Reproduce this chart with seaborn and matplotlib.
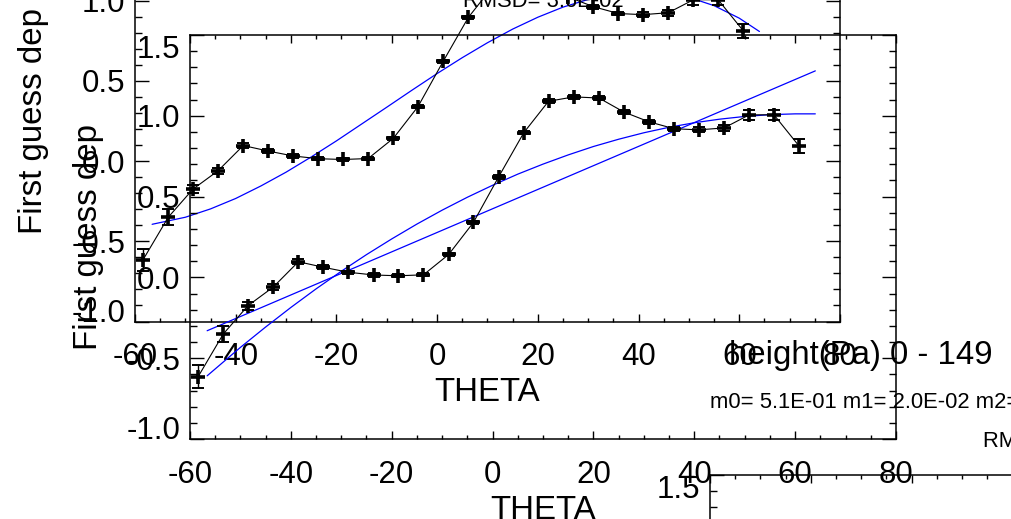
import matplotlib
matplotlib.use("Agg")
import matplotlib.pyplot as plt
import seaborn as sns
from matplotlib.ticker import FixedLocator, MultipleLocator, FormatStrFormatter

# Binned first-guess departures against scan angle (THETA)
theta = [-58.4, -53.4, -48.5, -43.5, -38.5, -33.6, -28.6, -23.6, -18.7, -13.7,
         -8.7, -3.8, 1.2, 6.2, 11.1, 16.1, 21.1, 26.0, 31.0, 36.0,
         40.9, 45.9, 50.9, 55.8, 60.8]
fg_dep = [-0.615, -0.350, -0.175, -0.060, 0.097, 0.063, 0.032, 0.015, 0.010, 0.016,
          0.142, 0.340, 0.622, 0.896, 1.090, 1.117, 1.110, 1.024, 0.963, 0.920,
          0.913, 0.925, 1.006, 1.006, 0.812]
fg_err = [0.070, 0.050, 0.025, 0.020, 0.015, 0.012, 0.010, 0.010, 0.010, 0.010,
          0.010, 0.010, 0.010, 0.010, 0.012, 0.012, 0.012, 0.012, 0.012, 0.012,
          0.015, 0.018, 0.030, 0.030, 0.045]

# Fitted bias-correction curves, sampled along THETA
fit_theta = [-56.6, -50, -45, -40, -35, -30, -25, -20, -15, -10, -5, 0, 5,
             10, 15, 20, 25, 30, 35, 40, 45, 50, 55, 60, 64.0]
fit_cubic = [-0.394, -0.350, -0.298, -0.233, -0.155, -0.069, 0.026, 0.126, 0.231,
             0.336, 0.442, 0.546, 0.645, 0.738, 0.823, 0.897, 0.960, 1.008, 1.041,
             1.055, 1.049, 1.021, 0.969, 0.891, 0.808]
fit_quad = [-0.609, -0.433, -0.307, -0.186, -0.071, 0.038, 0.141, 0.238, 0.330,
            0.416, 0.496, 0.570, 0.639, 0.701, 0.758, 0.810, 0.855, 0.895, 0.929,
            0.957, 0.979, 0.996, 1.007, 1.012, 1.012]
lin_theta = [-56.6, 64.0]
fit_lin = [-0.330, 1.278]

x_ticks = [-60, -40, -20, 0, 20, 40, 60, 80]
y_ticks = [-1.0, -0.5, 0.0, 0.5, 1.0, 1.5]

title_text = "height(Pa) 0 - 149"
coef_text = "m0= 5.1E-01 m1= 2.0E-02 m2=-1.2E-04"
rmsd_text = "RMSD= 3.6E-02"

sns.set_theme(style="ticks")
plt.rcParams["font.family"] = ["Liberation Sans", "DejaVu Sans"]
plt.rcParams["axes.unicode_minus"] = False

W, H = 1012, 519
fig = plt.figure(figsize=(W / 100, H / 100), dpi=100, facecolor="white")

BIG = 23.8
TICK = 22.5
SMALL = 15.8


def panel(left, top, width, height):
    ax = fig.add_axes([left / W, (H - top - height) / H, width / W, height / H])
    ax.set_facecolor("none")
    ax.set_xlim(-60, 80)
    ax.set_ylim(-1.0, 1.5)
    ax.xaxis.set_major_locator(FixedLocator(x_ticks))
    ax.xaxis.set_minor_locator(MultipleLocator(5))
    ax.yaxis.set_major_locator(FixedLocator(y_ticks))
    ax.yaxis.set_minor_locator(MultipleLocator(0.1))
    ax.xaxis.set_major_formatter(FormatStrFormatter("%d"))
    ax.yaxis.set_major_formatter(FormatStrFormatter("%.1f"))
    for s in ax.spines.values():
        s.set_visible(True)
        s.set_linewidth(1.1)
        s.set_color("black")
    ax.tick_params(which="both", direction="in", top=True, right=True,
                   width=1.0, color="black", labelsize=TICK, labelcolor="black")
    ax.tick_params(axis="x", which="major", length=5.8, pad=15)
    ax.tick_params(axis="x", which="minor", length=2.9)
    ax.tick_params(axis="y", which="major", length=10, pad=7)
    ax.tick_params(axis="y", which="minor", length=5)
    return ax


def finish(ax):
    ax.set_xlabel("THETA", fontsize=BIG, labelpad=3.5, color="black")
    ax.set_ylabel("First guess dep", fontsize=BIG, color="black")
    ax.yaxis.set_label_coords(-0.122, 0.5)
    ticks = ax.yaxis.get_major_ticks()
    ticks[0].label1.set_va("baseline")
    ticks[-1].label1.set_va("top")


def draw_departures(ax):
    ax.errorbar(theta, fg_dep, yerr=fg_err, fmt="none", ecolor="black",
                elinewidth=1.0, capsize=4, capthick=1.4, zorder=3)
    sns.lineplot(x=theta, y=fg_dep, ax=ax, color="black", linewidth=0.8,
                 marker="+", markersize=10, markeredgewidth=2.6,
                 markeredgecolor="black", zorder=4)


# Upper-left panel: departures with cubic fit
ax_a = panel(135, -79.5, 705, 401)
draw_departures(ax_a)
sns.lineplot(x=fit_theta, y=fit_cubic, ax=ax_a, color="#0000ff", linewidth=0.9)
finish(ax_a)

# Middle panel: departures with quadratic and linear fits
ax_b = panel(190, 35, 706, 404)
draw_departures(ax_b)
sns.lineplot(x=fit_theta, y=fit_quad, ax=ax_b, color="#0000ff", linewidth=0.9)
sns.lineplot(x=lin_theta, y=fit_lin, ax=ax_b, color="#0000ff", linewidth=0.9)
finish(ax_b)
ax_b.text(0.5, 1 + 28 / 404, rmsd_text, transform=ax_b.transAxes,
          ha="center", va="baseline", fontsize=SMALL, color="black")

# Lower-right panel with its header block
ax_c = panel(710, 475, 706, 404)
finish(ax_c)
ax_c.text(19 / 706, 1 + 111 / 404, title_text, transform=ax_c.transAxes,
          ha="left", va="baseline", fontsize=BIG, color="black")
ax_c.text(0.0, 1 + 67 / 404, coef_text, transform=ax_c.transAxes,
          ha="left", va="baseline", fontsize=SMALL, color="black")
ax_c.text(0.5, 1 + 28 / 404, rmsd_text, transform=ax_c.transAxes,
          ha="center", va="baseline", fontsize=SMALL, color="black")

fig.savefig("out.png", dpi=100, facecolor="white")
